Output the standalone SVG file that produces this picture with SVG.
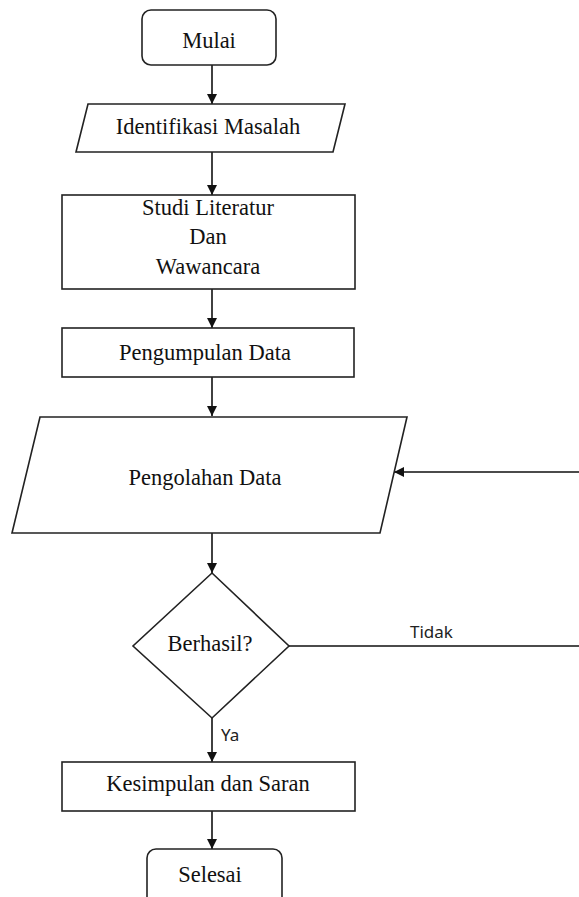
<svg xmlns="http://www.w3.org/2000/svg" width="579" height="897" viewBox="0 0 579 897">
  <defs>
    <marker id="arr" viewBox="0 0 10 10" refX="10" refY="5" markerWidth="10" markerHeight="10" markerUnits="userSpaceOnUse" orient="auto">
      <path d="M0,0 L10,5 L0,10 z" fill="#111"/>
    </marker>
    <style>
      .shape { fill: #fff; stroke: #222; stroke-width: 1.6; }
      .lbl { font-family: "Liberation Serif", "Times New Roman", serif; font-size: 22.5px; fill: #111; text-anchor: middle; }
      .edge { fill: none; stroke: #111; stroke-width: 1.6; }
      .elbl { font-family: "Noto Sans", "Liberation Sans", sans-serif; font-size: 17px; fill: #222; }
    </style>
  </defs>
  <rect width="579" height="897" fill="#fff"/>

  <g id="connectors">
    <line class="edge" x1="212" y1="65" x2="212" y2="104" marker-end="url(#arr)"/>
    <line class="edge" x1="212" y1="152" x2="212" y2="195" marker-end="url(#arr)"/>
    <line class="edge" x1="212" y1="289" x2="212" y2="328" marker-end="url(#arr)"/>
    <line class="edge" x1="212" y1="377" x2="212" y2="416" marker-end="url(#arr)"/>
    <line class="edge" x1="212" y1="533" x2="212" y2="573" marker-end="url(#arr)"/>
    <line class="edge" x1="212" y1="718" x2="212" y2="762" marker-end="url(#arr)"/>
    <line class="edge" x1="212" y1="811" x2="212" y2="849" marker-end="url(#arr)"/>
    <path class="edge" d="M289,646 H595 V472 H394" marker-end="url(#arr)"/>
    <text class="elbl" x="410" y="638">Tidak</text>
    <text class="elbl" x="221" y="741">Ya</text>
  </g>

  <g id="mulai">
    <rect class="shape" x="142" y="10" width="134" height="55" rx="9"/>
    <text class="lbl" x="209" y="48">Mulai</text>
  </g>

  <g id="identifikasi">
    <polygon class="shape" points="88,104 345,104 333,152 76,152"/>
    <text class="lbl" x="208" y="134">Identifikasi Masalah</text>
  </g>

  <g id="studi">
    <rect class="shape" x="62" y="195" width="293" height="94"/>
    <text class="lbl" x="208" y="215">Studi Literatur</text>
    <text class="lbl" x="208" y="244">Dan</text>
    <text class="lbl" x="208" y="274">Wawancara</text>
  </g>

  <g id="pengumpulan">
    <rect class="shape" x="62" y="328" width="292" height="49"/>
    <text class="lbl" x="205" y="360">Pengumpulan Data</text>
  </g>

  <g id="pengolahan">
    <polygon class="shape" points="40,417 407,417 380,533 12,533"/>
    <text class="lbl" x="205" y="485">Pengolahan Data</text>
  </g>

  <g id="berhasil">
    <polygon class="shape" points="212,573 289,646 212,718 133,646"/>
    <text class="lbl" x="210" y="651">Berhasil?</text>
  </g>

  <g id="kesimpulan">
    <rect class="shape" x="62" y="762" width="293" height="49"/>
    <text class="lbl" x="208" y="791">Kesimpulan dan Saran</text>
  </g>

  <g id="selesai">
    <rect class="shape" x="147" y="849" width="135" height="70" rx="9"/>
    <text class="lbl" x="210" y="882">Selesai</text>
  </g>
</svg>
